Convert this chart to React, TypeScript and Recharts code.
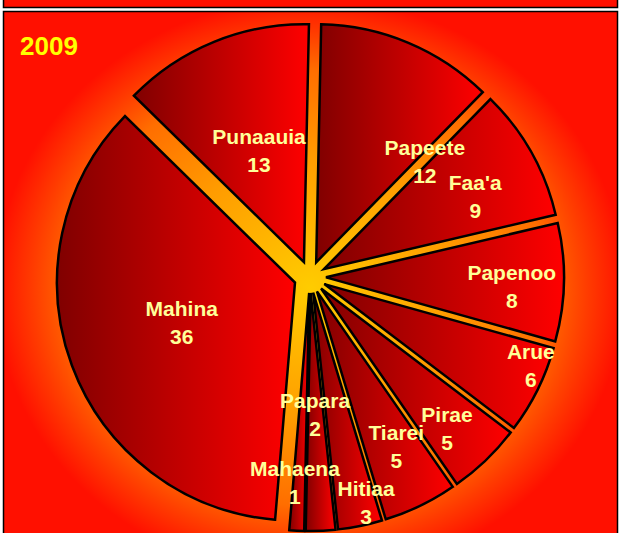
import React from "react";
import { PieChart, Pie, Cell } from "recharts";

// communes, clockwise from 12 o'clock
const communes = [
  "Papeete",
  "Faa'a",
  "Papenoo",
  "Arue",
  "Pirae",
  "Tiarei",
  "Hitiaa",
  "Papara",
  "Mahaena",
  "Mahina",
  "Punaauia",
];
const counts = [12, 9, 8, 6, 5, 5, 3, 2, 1, 36, 13];
const yearLabel = "2009";

const data = communes.map((name, i) => ({ name, value: counts[i] }));

const W = 620;
const H = 533;
const CX = 310;
const CY = 277;
const R = 238;
const EXPLODE = 16;
const ROTATE = 1.2; // pie starts slightly past 12 o'clock
const START = 90 - ROTATE;
const END = START - 360;
const FONT = "'Liberation Sans', Arial, Helvetica, sans-serif";

// label placement: angle nudge (deg, clockwise) and distance from the centre
const LABEL_NUDGE = [22.0, 3.3, 1.6, -4.5, 1.6, -1.2, -2.6, 0.3, 1.2, 1.0, 0.2];
const LABEL_DIST = [163, 184, 202, 238, 204, 190, 232, 138, 206, 136, 136];

const total = counts.reduce((a, b) => a + b, 0);
// mid angle of every slice, in recharts degrees (counter-clockwise from 3 o'clock)
const midAngles = counts.map((v, i) => {
  const before = counts.slice(0, i).reduce((a, b) => a + b, 0);
  return START - ((before + v / 2) / total) * 360;
});

const renderLabel = (props: any) => {
  const { cx, cy, midAngle, index } = props;
  const name = props.payload?.name ?? props.name;
  const value = props.payload?.value ?? props.value;
  const a = ((midAngle - LABEL_NUDGE[index]) * Math.PI) / 180;
  const r = LABEL_DIST[index];
  const x = cx + r * Math.cos(a);
  const y = cy - r * Math.sin(a);
  const style = {
    fontFamily: FONT,
    fontSize: 21,
    fontWeight: 700,
    fill: "#FFFF99",
  };
  return (
    <g>
      <text x={x} y={y - 14} textAnchor="middle" dominantBaseline="central" style={style}>
        {name}
      </text>
      <text x={x} y={y + 14} textAnchor="middle" dominantBaseline="central" style={style}>
        {value}
      </text>
    </g>
  );
};

export default function App() {
  return (
    <div
      style={{
        position: "absolute",
        left: 0,
        top: 0,
        width: W,
        height: H,
        overflow: "hidden",
        background: "#fff",
      }}
    >
      <svg width={W} height={H} style={{ position: "absolute", left: 0, top: 0 }}>
        <defs>
          <radialGradient
            id="bgGlow"
            gradientUnits="userSpaceOnUse"
            cx="0"
            cy="0"
            r="1"
            gradientTransform={`translate(${CX} 288) scale(315 290)`}
          >
            <stop offset="0" stopColor="#FFCC00" />
            <stop offset="0.45" stopColor="#FF9C00" />
            <stop offset="0.75" stopColor="#FF6E00" />
            <stop offset="0.88" stopColor="#FF3C00" />
            <stop offset="1" stopColor="#FF1000" />
          </radialGradient>
          <linearGradient id="sliceShade" x1="0" y1="0" x2="1" y2="0">
            <stop offset="0" stopColor="#800000" />
            <stop offset="1" stopColor="#FF0000" />
          </linearGradient>
        </defs>
        <rect x={3.5} y={-20} width={614} height={27.5} fill="#FF1000" stroke="#000" strokeWidth={1.5} />
        <rect x={3.5} y={11.5} width={614} height={600} fill="url(#bgGlow)" stroke="#000" strokeWidth={1.5} />
        <text x={20} y={55} style={{ fontFamily: FONT, fontSize: 26, fontWeight: 700, fill: "#FFFF00" }}>
          {yearLabel}
        </text>
      </svg>
      <div style={{ position: "absolute", left: 0, top: 0 }}>
        <PieChart width={W} height={H} margin={{ top: 0, right: 0, bottom: 0, left: 0 }}>
          {data.map((_, i) => {
            const a = (midAngles[i] * Math.PI) / 180;
            return (
              <Pie
                key={`slice-${i}`}
                data={data}
                dataKey="value"
                nameKey="name"
                cx={CX + EXPLODE * Math.cos(a)}
                cy={CY - EXPLODE * Math.sin(a)}
                outerRadius={R}
                startAngle={START}
                endAngle={END}
                isAnimationActive={false}
                labelLine={false}
                label={false}
              >
                {data.map((__, j) => (
                  <Cell
                    key={`c-${j}`}
                    fill={j === i ? "url(#sliceShade)" : "none"}
                    stroke={j === i ? "#000" : "none"}
                    strokeWidth={2.5}
                    strokeLinejoin="miter"
                  />
                ))}
              </Pie>
            );
          })}
          <Pie
            data={data}
            dataKey="value"
            nameKey="name"
            cx={CX}
            cy={CY}
            outerRadius={R}
            startAngle={START}
            endAngle={END}
            isAnimationActive={false}
            labelLine={false}
            label={renderLabel}
          >
            {data.map((__, j) => (
              <Cell key={`l-${j}`} fill="none" stroke="none" />
            ))}
          </Pie>
        </PieChart>
      </div>
    </div>
  );
}
